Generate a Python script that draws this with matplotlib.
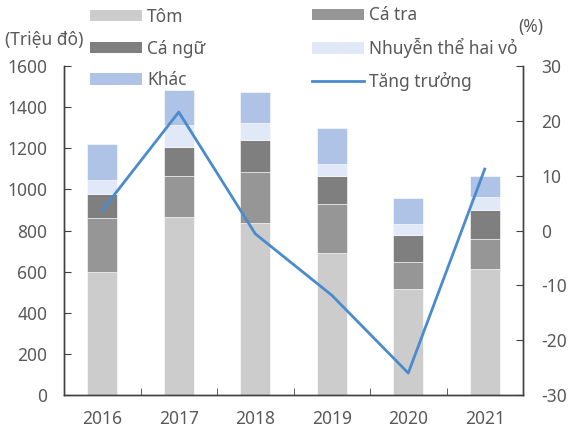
import matplotlib
matplotlib.use("Agg")
import matplotlib.pyplot as plt
import numpy as np
from matplotlib.patches import Patch
from matplotlib.lines import Line2D

years = ["2016", "2017", "2018", "2019", "2020", "2021"]
tom = [600, 864, 838, 691, 516, 613]
ca_tra = [261, 201, 247, 238, 131, 144]
ca_ngu = [115, 141, 154, 134, 133, 144]
nhuyen_the = [71, 107, 84, 62, 50, 62]
khac = [172, 169, 149, 172, 128, 101]
tang_truong = [3.7, 21.6, -0.6, -11.8, -26.0, 11.2]

series_names = ["Tôm", "Cá tra", "Cá ngữ", "Nhuyễn thể hai vỏ", "Khác"]
series_vals = [tom, ca_tra, ca_ngu, nhuyen_the, khac]
colors = ["#CCCCCC", "#969696", "#7F7F7F", "#E1E8F7", "#AEC3E6"]
line_color = "#4A8BCD"
text_color = "#595959"

FS = 12.5
plt.rcParams["font.family"] = ["Noto Sans", "DejaVu Sans"]
plt.rcParams["font.size"] = FS
plt.rcParams["axes.unicode_minus"] = False

W, H = 569, 430
fig = plt.figure(figsize=(W/100, H/100), dpi=100)
ax = fig.add_axes([64/W, 1-395/H, (523-64)/W, (395-66)/H])
ax2 = ax.twinx()

x = np.arange(len(years))
bottom = np.zeros(len(years))
handles = []
for name, vals, c in zip(series_names, series_vals, colors):
    ax.bar(x, vals, width=0.39, bottom=bottom, color=c, edgecolor="white", linewidth=0.4, zorder=2)
    bottom += np.array(vals)
    handles.append(Patch(facecolor=c, edgecolor="none", label=name))

ax2.plot(x, tang_truong, color=line_color, linewidth=2, zorder=3)
line_handle = Line2D([0], [0], color=line_color, linewidth=2, label="Tăng trưởng")

ax.set_xlim(-0.5, len(years)-0.5)
ax.set_ylim(0, 1600)
ax.set_yticks(np.arange(0, 1601, 200))
ax2.set_ylim(-30, 30)
ax2.set_yticks(np.arange(-30, 31, 10))

ax.set_xticks(x)
ax.set_xticklabels(years)
ax.set_xticks(np.arange(-0.5, len(years), 1), minor=True)
ax.tick_params(axis="x", which="major", length=0, pad=11, labelcolor=text_color, labelsize=FS)
ax.tick_params(axis="x", which="minor", direction="in", length=5, color="#404040")
ax.tick_params(axis="y", direction="in", length=5, color="#404040", labelcolor=text_color, pad=12, labelsize=FS)
ax2.tick_params(axis="y", direction="in", length=5, color="#404040", labelcolor=text_color, pad=13, labelsize=FS)

for a in (ax, ax2):
    a.spines["top"].set_visible(False)
    for s in ("left", "right", "bottom"):
        a.spines[s].set_color("#404040")
        a.spines[s].set_linewidth(1.0)

fig.text(5/W, 1-39.5/H, "(Triệu đô)", color=text_color, fontsize=FS, va="center", ha="left")
fig.text(518/W, 1-27/H, "(%)", color=text_color, fontsize=FS, va="center", ha="left")

common = dict(frameon=False, handlelength=3.0, handleheight=0.62, handletextpad=0.3,
              labelspacing=0.78, borderpad=0.0, borderaxespad=0.0, labelcolor=text_color, fontsize=FS)
col1 = [handles[0], handles[2], handles[4]]
col2 = [handles[1], handles[3], line_handle]
leg1 = fig.legend(col1, [h.get_label() for h in col1], loc="center left",
                  bbox_to_anchor=(90/W, 1-48.5/H), **common)
leg2 = fig.legend(col2, [h.get_label() for h in col2], loc="center left",
                  bbox_to_anchor=(311.7/W, 1-48.5/H), **common)

fig.savefig("out.png", dpi=100)
